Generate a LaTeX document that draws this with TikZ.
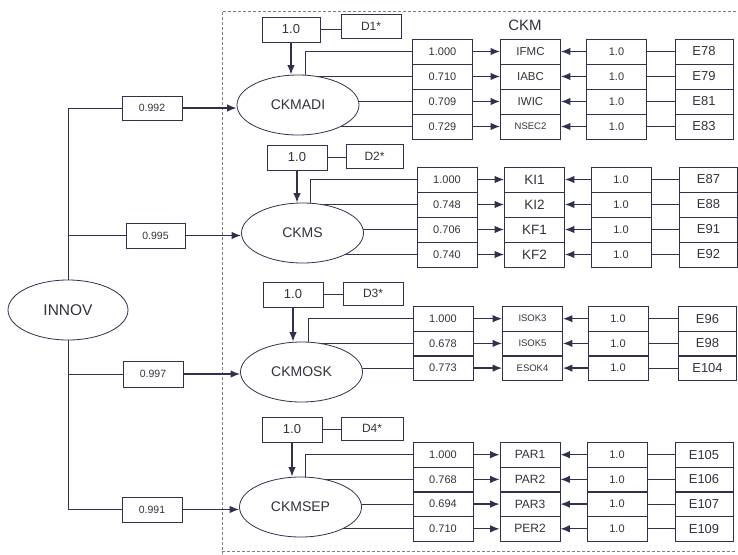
\documentclass[tikz,border=0pt]{standalone}
\usepackage{fontspec}
\setmainfont{Liberation Sans}
\usetikzlibrary{shapes.geometric,arrows.meta,backgrounds}
\definecolor{ink}{RGB}{48,48,80}
\definecolor{txt}{RGB}{50,50,60}
\newcommand{\fsz}[1]{\fontsize{#1}{#1}\selectfont}
\tikzset{
	cell/.style={draw=ink, line width=0.8pt, minimum width=60pt, minimum height=25pt, inner sep=0pt, text=txt},
	latent/.style={draw=ink, line width=0.8pt, ellipse, fill=white, minimum width=122pt, minimum height=60pt, inner sep=0pt, text=txt, font=\fsz{14}},
	link/.style={draw=ink, line width=0.8pt},
	arr/.style={draw=ink, line width=1.3pt, -{Latex[length=9.5pt,width=7.5pt]}},
	frame/.style={draw=gray, line width=0.6pt, dash pattern=on 3pt off 2pt},
}
\begin{document}
\begin{tikzpicture}[x=1pt,y=-1pt]
	\useasboundingbox (0,0) rectangle (738,554);
	
	% dashed frame of the CKM part
	\draw [frame] (736,11) -- (222,11) -- (222,554);
	\draw [frame] (222,551) -- (736,551);
	\node [text=txt, font=\fsz{15}] (ckm) at (525,25) {CKM};
	
	\node [latent, minimum width=120pt, font=\fsz{15.5}] (innov) at (68,310) {INNOV};
	
	% CKMADI
	\node [latent] (ca) at (298,105) {CKMADI};
	\node [cell, minimum width=58pt, font=\fsz{13}] (va) at (291,29.5) {1.0};
	\node [cell, minimum height=24pt, font=\fsz{12}] (da) at (371,26) {D1*};
	\foreach \w/\ind/\err [count=\i] in {1.000/IFMC/E78, 0.710/IABC/E79, 0.709/IWIC/E81, 0.729/{\fsz{9.5}NSEC2}/E83} {
		\node [cell, font=\fsz{11}] (la\i) at (442.5,{26.5+25*\i}) {\w};
		\node [cell, font=\fsz{11.5}] (ia\i) at (530.5,{26.5+25*\i}) {\ind};
		\node [cell, font=\fsz{11}] (ua\i) at (616.5,{26.5+25*\i}) {1.0};
		\node [cell, minimum width=58pt, font=\fsz{13}] (ea\i) at (704,{26.5+25*\i}) {\err};
		\draw [arr] (la\i.east) -- (ia\i.west);
		\draw [arr] (ua\i.west) -- (ia\i.east);
		\draw [link] (ea\i.west) -- (ua\i.east);
	}
	\draw [arr] (va.south) -- (va.south |- ca.north);
	\draw [link] (va.east) -- (va.east -| da.west);
	
	% CKMS
	\node [latent] (cs) at (302.5,233) {CKMS};
	\node [cell, font=\fsz{13}] (vs) at (297,157.5) {1.0};
	\node [cell, minimum width=57pt, minimum height=24pt, font=\fsz{12}] (ds) at (374.5,156) {D2*};
	\foreach \w/\ind/\err [count=\i] in {1.000/KI1/E87, 0.748/KI2/E88, 0.706/KF1/E91, 0.740/KF2/E92} {
		\node [cell, font=\fsz{11}] (ls\i) at (447,{154.5+25*\i}) {\w};
		\node [cell, font=\fsz{13.5}] (is\i) at (534.5,{154.5+25*\i}) {\ind};
		\node [cell, font=\fsz{11}] (us\i) at (621,{154.5+25*\i}) {1.0};
		\node [cell, minimum width=58pt, font=\fsz{13}] (es\i) at (708.5,{154.5+25*\i}) {\err};
		\draw [arr] (ls\i.east) -- (is\i.west);
		\draw [arr] (us\i.west) -- (is\i.east);
		\draw [link] (es\i.west) -- (us\i.east);
	}
	\draw [arr] (vs.south) -- (vs.south |- cs.north);
	\draw [link] (vs.east) -- (vs.east -| ds.west);
	
	% CKMOSK
	\node [latent] (ck) at (301.5,372) {CKMOSK};
	\node [cell, font=\fsz{13}] (vk) at (293,294.5) {1.0};
	\node [cell, minimum height=23pt, font=\fsz{12}] (dk) at (373,293.5) {D3*};
	\foreach \w/\ind/\err [count=\i] in {1.000/ISOK3/E96, 0.678/ISOK5/E98, 0.773/ESOK4/E104} {
		\node [cell, font=\fsz{11}] (lk\i) at (443,{294+24.7*\i}) {\w};
		\node [cell, font=\fsz{9.5}] (ik\i) at (532.5,{294+24.7*\i}) {\ind};
		\node [cell, font=\fsz{11}] (uk\i) at (618,{294+24.7*\i}) {1.0};
		\node [cell, minimum width=58pt, font=\fsz{13}] (ek\i) at (707.5,{294+24.7*\i}) {\err};
		\draw [arr] (lk\i.east) -- (ik\i.west);
		\draw [arr] (uk\i.west) -- (ik\i.east);
		\draw [link] (ek\i.west) -- (uk\i.east);
	}
	\draw [arr] (vk.south) -- (vk.south |- ck.north);
	\draw [link] (vk.east) -- (vk.east -| dk.west);
	
	% CKMSEP
	\node [latent] (cp) at (300.5,507) {CKMSEP};
	\node [cell, font=\fsz{13}] (vp) at (292,429.5) {1.0};
	\node [cell, minimum width=62pt, minimum height=23pt, font=\fsz{12}] (dp) at (372,428.5) {D4*};
	\foreach \w/\ind/\err [count=\i] in {1.000/PAR1/E105, 0.768/PAR2/E106, 0.694/PAR3/E107, 0.710/PER2/E109} {
		\node [cell, font=\fsz{11}] (lp\i) at (443,{430+24.7*\i}) {\w};
		\node [cell, font=\fsz{12}] (ip\i) at (530,{430+24.7*\i}) {\ind};
		\node [cell, font=\fsz{11}] (up\i) at (617,{430+24.7*\i}) {1.0};
		\node [cell, minimum width=58pt, font=\fsz{13}] (ep\i) at (704,{430+24.7*\i}) {\err};
		\draw [arr] (lp\i.east) -- (ip\i.west);
		\draw [arr] (up\i.west) -- (ip\i.east);
		\draw [link] (ep\i.west) -- (up\i.east);
	}
	\draw [arr] (vp.south) -- (vp.south |- cp.north);
	\draw [link] (vp.east) -- (vp.east -| dp.west);
	
	% INNOV paths
	\node [cell, minimum height=24pt, font=\fsz{10.5}] (w1) at (152,108) {0.992};
	\node [cell, minimum width=59pt, font=\fsz{10.5}] (w2) at (155.5,235.5) {0.995};
	\node [cell, minimum height=26pt, font=\fsz{10.5}] (w3) at (153,374) {0.997};
	\node [cell, font=\fsz{10.5}] (w4) at (152,509.5) {0.991};
	\draw [link] (w1.west) -| (innov.north);
	\draw [link] (w4.west) -| (innov.south);
	\draw [link] (w2.west) -- (w2.west -| innov.center);
	\draw [link] (w3.west) -- (w3.west -| innov.center);
	\draw [arr] (w1.east) -- (w1.east -| ca.west);
	\draw [arr] (w2.east) -- (w2.east -| cs.west);
	\draw [arr] (w3.east) -- (w3.east -| ck.west);
	\draw [arr] (w4.east) -- (w4.east -| cp.west);
	
	% lines from the factors to their loadings
	\begin{scope}[on background layer]
		\draw [link] ([xshift=7pt]ca.center) |- (la1.west);
		\draw [link] ([xshift=8pt]cs.center) |- (ls1.west);
		\draw [link] ([xshift=7pt]ck.center) |- (lk1.west);
		\draw [link] ([xshift=5pt]cp.center) |- (lp1.west);
		\foreach \i in {2,3,4} {
			\draw [link] (la\i.west) -- (la\i.west -| ca.center);
			\draw [link] (ls\i.west) -- (ls\i.west -| cs.center);
			\draw [link] (lp\i.west) -- (lp\i.west -| cp.center);
		}
		\foreach \i in {2,3}
			\draw [link] (lk\i.west) -- (lk\i.west -| ck.center);
	\end{scope}
\end{tikzpicture}
\end{document}
